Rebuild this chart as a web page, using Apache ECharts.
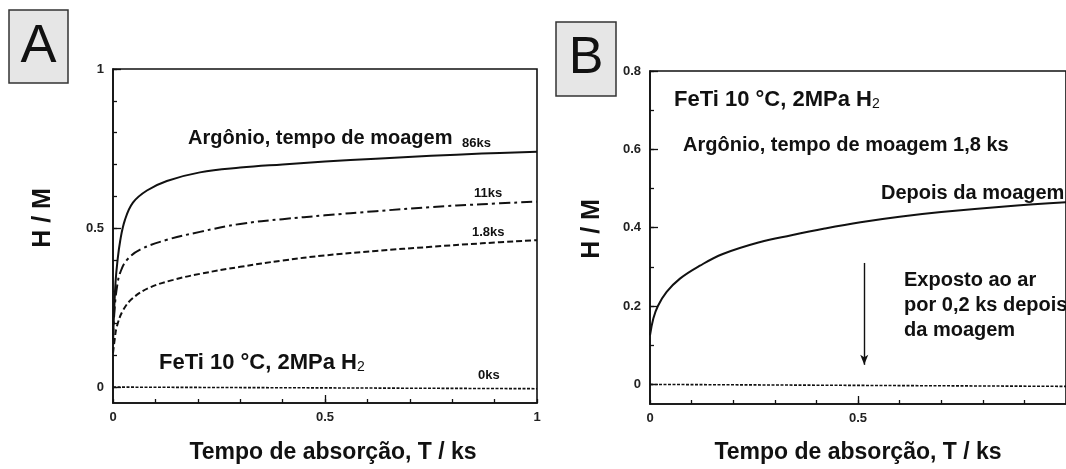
<!DOCTYPE html>
<html>
<head>
<meta charset="utf-8">
<script src="https://cdn.jsdelivr.net/npm/echarts@6/dist/echarts.min.js"></script>
<style>
html,body{margin:0;padding:0;background:#fff;}
#chart{width:1066px;height:469px;}
</style>
</head>
<body>
<div id="chart"></div>
<script>
// ---- Panel A data (absorption time T / ks vs H/M) ----
const tA86 = [0, 0.003, 0.006, 0.01, 0.017, 0.028, 0.047, 0.08, 0.127, 0.205, 0.3, 0.4, 0.5, 0.62, 0.75, 0.87, 1.0];
const hA86 = [0.15, 0.25, 0.33, 0.39, 0.46, 0.525, 0.58, 0.618, 0.648, 0.675, 0.69, 0.70, 0.709, 0.718, 0.727, 0.734, 0.74];
const tA11 = [0, 0.004, 0.01, 0.017, 0.033, 0.064, 0.127, 0.205, 0.3, 0.4, 0.5, 0.62, 0.75, 0.87, 1.0];
const hA11 = [0.15, 0.25, 0.32, 0.36, 0.4, 0.432, 0.463, 0.488, 0.513, 0.528, 0.54, 0.553, 0.566, 0.575, 0.583];
const tA18 = [0, 0.004, 0.009, 0.024, 0.047, 0.087, 0.142, 0.205, 0.3, 0.4, 0.5, 0.62, 0.75, 0.87, 1.0];
const hA18 = [0.107, 0.15, 0.19, 0.242, 0.28, 0.313, 0.337, 0.356, 0.378, 0.398, 0.414, 0.428, 0.441, 0.452, 0.462];
const tA0 = [0, 1.0];
const hA0 = [0, -0.005];

// ---- Panel B data ----
const tBmill = [0, 0.008, 0.019, 0.04, 0.072, 0.12, 0.175, 0.263, 0.34, 0.42, 0.506, 0.6, 0.70, 0.86, 1.0];
const hBmill = [0.125, 0.168, 0.2, 0.236, 0.27, 0.303, 0.333, 0.363, 0.381, 0.398, 0.414, 0.428, 0.44, 0.455, 0.465];
const tBair = [0, 1.0];
const hBair = [0, -0.005];
const arrowB = {x: 0.515, from: 0.31, to: 0.05};

// ---- Tick / label values ----
const xMinorTicks = [0, 0.1, 0.2, 0.3, 0.4, 0.5, 0.6, 0.7, 0.8, 0.9, 1];
const xMajorTicks = [0.5];
const xLabelsA = [0, 0.5, 1];
const xLabelsB = [0, 0.5];
const yMinorTicksA = [0, 0.1, 0.2, 0.3, 0.4, 0.5, 0.6, 0.7, 0.8, 0.9, 1];
const yMajorTicksA = [0, 0.5, 1];
const yLabelsA = [0, 0.5, 1];
const yMinorTicksB = [0, 0.1, 0.2, 0.3, 0.4, 0.5, 0.6, 0.7, 0.8];
const yMajorTicksB = [0, 0.2, 0.4, 0.6, 0.8];
const yLabelsB = [0, 0.2, 0.4, 0.6, 0.8];

const zip = (a, b) => a.map((v, i) => [v, b[i]]);
const INK = '#111';
const FONT = '"Liberation Sans", Arial, sans-serif';

function xAxes(grid, labels) {
  return [
    {gridIndex: grid, type: 'value', min: 0, max: 1, position: 'bottom',
     axisLine: {show: true, onZero: false, lineStyle: {color: INK, width: 1.6}},
     axisTick: {show: true, inside: true, length: 4, customValues: xMinorTicks, lineStyle: {color: INK, width: 1.3}},
     axisLabel: {show: true, customValues: labels, margin: 8, fontSize: 13, fontWeight: 'bold', color: '#222', fontFamily: FONT},
     splitLine: {show: false}},
    {gridIndex: grid, type: 'value', min: 0, max: 1, position: 'bottom',
     axisLine: {show: false, onZero: false},
     axisTick: {show: true, inside: true, length: 8, customValues: xMajorTicks, lineStyle: {color: INK, width: 1.3}},
     axisLabel: {show: false}, splitLine: {show: false}}
  ];
}
function yAxes(grid, max, minor, major, labels) {
  return [
    {gridIndex: grid, type: 'value', min: -0.05, max: max, position: 'left',
     axisLine: {show: true, onZero: false, lineStyle: {color: INK, width: 1.6}},
     axisTick: {show: true, inside: true, length: 4, customValues: minor, lineStyle: {color: INK, width: 1.3}},
     axisLabel: {show: true, customValues: labels, margin: 9, fontSize: 13, fontWeight: 'bold', color: '#222', fontFamily: FONT},
     splitLine: {show: false}},
    {gridIndex: grid, type: 'value', min: -0.05, max: max, position: 'left',
     axisLine: {show: false, onZero: false},
     axisTick: {show: true, inside: true, length: 8, customValues: major, lineStyle: {color: INK, width: 1.3}},
     axisLabel: {show: false}, splitLine: {show: false}}
  ];
}

function txt(x, y, text, size, opts) {
  opts = opts || {};
  return {
    type: 'text', x: x, y: y, rotation: opts.rotation || 0, silent: true,
    style: Object.assign({
      text: text, fill: INK,
      font: (opts.weight || 'bold') + ' ' + size + 'px ' + FONT,
      textAlign: opts.align || 'left', align: opts.align || 'left',
      textVerticalAlign: 'middle', verticalAlign: 'middle'
    }, opts.style || {})
  };
}
function feti(x, y) {
  return {
    type: 'text', x: x, y: y, silent: true,
    style: {
      text: '{a|FeTi 10 °C, 2MPa H}{s|2}',
      textAlign: 'left', align: 'left', textVerticalAlign: 'middle', verticalAlign: 'middle',
      rich: {
        a: {fontSize: 22, fontWeight: 'bold', fontFamily: FONT, fill: INK, color: INK},
        s: {fontSize: 14, fontWeight: 'normal', fontFamily: FONT, fill: INK, color: INK, verticalAlign: 'bottom'}
      }
    }
  };
}

const lineBase = {type: 'line', showSymbol: false, symbol: 'none', smooth: 0.4, silent: true};

const option = {
  animation: false,
  backgroundColor: '#fff',
  grid: [
    {left: 113, right: 529, top: 69, bottom: 66, show: true, borderColor: INK, borderWidth: 1.6, backgroundColor: 'transparent', containLabel: false},
    {left: 650, right: -3, top: 71, bottom: 65, show: true, borderColor: INK, borderWidth: 1.6, backgroundColor: 'transparent', containLabel: false}
  ],
  xAxis: xAxes(0, xLabelsA).concat(xAxes(1, xLabelsB)),
  yAxis: yAxes(0, 1, yMinorTicksA, yMajorTicksA, yLabelsA).concat(yAxes(1, 0.8, yMinorTicksB, yMajorTicksB, yLabelsB)),
  series: [
    Object.assign({}, lineBase, {name: '86ks', xAxisIndex: 0, yAxisIndex: 0, data: zip(tA86, hA86), lineStyle: {color: INK, width: 2, type: 'solid'}}),
    Object.assign({}, lineBase, {name: '11ks', xAxisIndex: 0, yAxisIndex: 0, data: zip(tA11, hA11), lineStyle: {color: INK, width: 2, type: [11, 4, 3, 4]}}),
    Object.assign({}, lineBase, {name: '1.8ks', xAxisIndex: 0, yAxisIndex: 0, data: zip(tA18, hA18), lineStyle: {color: INK, width: 2, type: [6, 3]}}),
    Object.assign({}, lineBase, {name: '0ks', xAxisIndex: 0, yAxisIndex: 0, data: zip(tA0, hA0), smooth: false, lineStyle: {color: INK, width: 1.6, type: [3, 1.5]}}),
    Object.assign({}, lineBase, {name: 'Depois da moagem', xAxisIndex: 2, yAxisIndex: 2, data: zip(tBmill, hBmill), lineStyle: {color: INK, width: 2, type: 'solid'},
      markLine: {silent: true, symbol: ['none', 'arrow'], symbolSize: [6, 10], animation: false,
        label: {show: false}, lineStyle: {color: INK, width: 1.4, type: 'solid'},
        data: [[{coord: [arrowB.x, arrowB.from]}, {coord: [arrowB.x, arrowB.to]}]]}}),
    Object.assign({}, lineBase, {name: 'Exposto ao ar', xAxisIndex: 2, yAxisIndex: 2, data: zip(tBair, hBair), smooth: false, lineStyle: {color: INK, width: 1.6, type: [3, 1.5]}})
  ],
  graphic: [
    // Panel letters
    {type: 'rect', shape: {x: 9, y: 10, width: 59, height: 73}, style: {fill: '#e6e6e6', stroke: '#333', lineWidth: 1.5}, silent: true},
    txt(38.5, 47, 'A', 54, {weight: 'normal', align: 'center'}),
    {type: 'rect', shape: {x: 556, y: 22, width: 60, height: 74}, style: {fill: '#e6e6e6', stroke: '#333', lineWidth: 1.5}, silent: true},
    txt(586, 59, 'B', 52, {weight: 'normal', align: 'center'}),
    // Axis titles
    txt(333, 453, 'Tempo de absorção, T / ks', 23, {align: 'center'}),
    txt(858, 453, 'Tempo de absorção, T / ks', 23, {align: 'center'}),
    txt(43, 218, 'H / M', 25, {align: 'center', rotation: Math.PI / 2}),
    txt(592, 229, 'H / M', 25, {align: 'center', rotation: Math.PI / 2}),
    // Panel A annotations
    txt(188, 138, 'Argônio, tempo de moagem', 20),
    txt(462, 143, '86ks', 13),
    txt(474, 193, '11ks', 13),
    txt(472, 232, '1.8ks', 13),
    txt(478, 375, '0ks', 13),
    feti(159, 363),
    // Panel B annotations
    feti(674, 100),
    txt(683, 145, 'Argônio, tempo de moagem 1,8 ks', 20),
    txt(881, 193, 'Depois da moagem', 20),
    txt(904, 280, 'Exposto ao ar', 20),
    txt(904, 305, 'por 0,2 ks depois', 20),
    txt(904, 330, 'da moagem', 20)
  ]
};

const chart = echarts.init(document.getElementById('chart'), null, {renderer: 'canvas'});
chart.setOption(option);
</script>
</body>
</html>
